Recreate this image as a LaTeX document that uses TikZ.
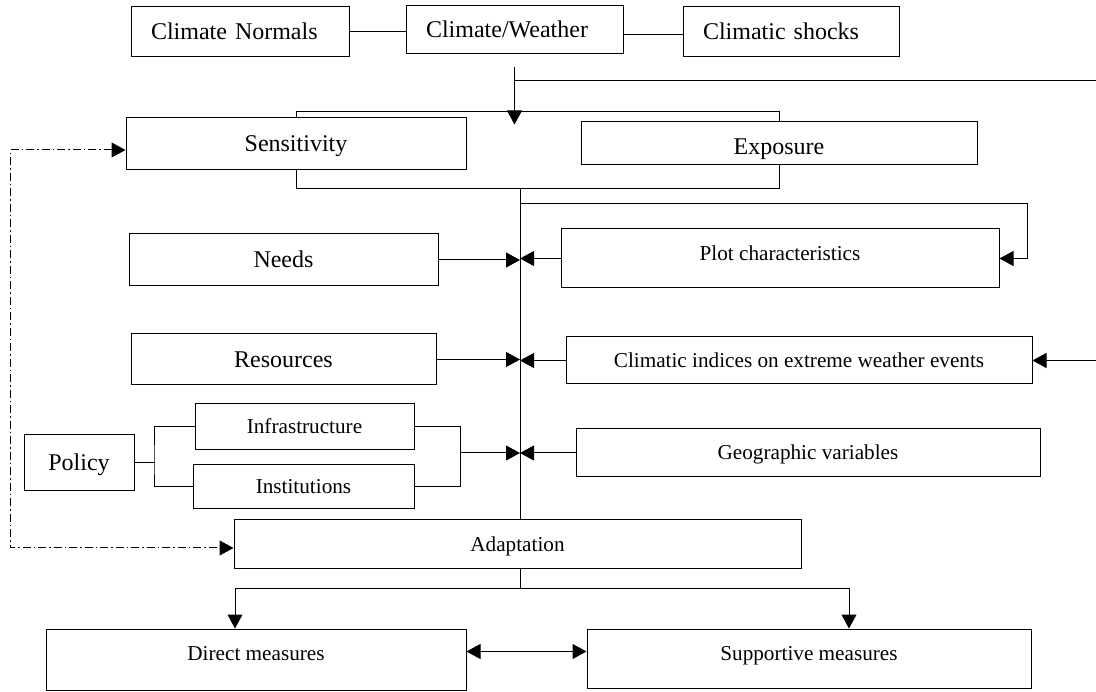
\documentclass[tikz,border=0pt]{standalone}
\usepackage{fontspec}
\setmainfont{Liberation Serif}
\usetikzlibrary{arrows.meta,positioning}
\begin{document}
\begin{tikzpicture}[x=1pt,y=-1pt,line width=1pt,
	bx/.style={draw,inner sep=0pt},
	big/.style={font=\fontsize{24}{28}\selectfont,text height=21.6pt,text depth=6pt},
	sml/.style={font=\fontsize{21.2}{25}\selectfont,text height=19.1pt,text depth=5.3pt},
	lft/.style={bx,big,inner xsep=20pt,align=left},
	tip/.style={-{Triangle[length=14pt,width=15pt]}},
	both/.style={{Triangle[length=14pt,width=15pt]}-{Triangle[length=14pt,width=15pt]}},
	chain/.style={dash pattern=on 8pt off 3pt on 1.5pt off 3pt}]
	\useasboundingbox (0,0) rectangle (1096,692);
	% climate row
	\node[lft,text width=178pt,minimum height=50pt] (0) at (240,32) {Climate Normals};
	\node[lft,text width=177pt,minimum height=48pt] (1) at (514.5,30) {Climate/Weather};
	\node[lft,text width=176pt,minimum height=50pt] (2) at (791,32) {Climatic shocks};
	\node[bx,big,minimum width=340pt,minimum height=52pt] (3) at (296,144) {Sensitivity};
	\node[bx,big,minimum width=396pt,minimum height=43pt,text height=27.8pt] (4) at (779,143.5) {Exposure};
	% factors
	\node[bx,big,minimum width=309pt,minimum height=52pt] (5) at (283.5,260) {Needs};
	\node[bx,sml,minimum width=438pt,minimum height=59pt,text depth=15pt] (6) at (780,258.5) {Plot characteristics};
	\node[bx,big,minimum width=305pt,minimum height=51pt] (7) at (283.5,359.5) {Resources};
	\node[bx,sml,minimum width=466pt,minimum height=47pt] (8) at (799,360.5) {Climatic indices on extreme weather events};
	\node[bx,sml,minimum width=219pt,minimum height=46pt] (9) at (304.5,427) {Infrastructure};
	\node[bx,sml,minimum width=221pt,minimum height=44pt] (10) at (303.5,487) {Institutions};
	\node[bx,big,minimum width=110pt,minimum height=56pt] (11) at (79,463) {Policy};
	\node[bx,sml,minimum width=464pt,minimum height=48pt] (12) at (808,453) {Geographic variables};
	% adaptation
	\node[bx,sml,minimum width=567pt,minimum height=49pt] (13) at (517.5,544.5) {Adaptation};
	\node[bx,sml,minimum width=420pt,minimum height=61pt,text depth=18pt] (14) at (256,659.5) {Direct measures};
	\node[bx,sml,minimum width=444pt,minimum height=59pt,text depth=16pt] (15) at (809,658.5) {Supportive measures};
	\coordinate (m) at (520,188);
	\draw (0.east) -- (0.east -| 1.west);
	\draw ([yshift=-3pt]2.west) -- ([yshift=-3pt]2.west -| 1.east);
	\draw (3.north) -- ++(0,-6) coordinate (t) -| (4.north);
	\draw (3.south) -- ++(0,18) -| (4.south);
	\draw[tip] ([yshift=-13pt]1.south) -- ([yshift=-13pt]1.south |- t);
	\draw ([yshift=-26pt]1.south) -- ++(582,0);
	\draw (m) -- (m |- 13.north);
	\draw[tip] (m |- 0,204) -- (1027,204) |- (6.east);
	\draw[tip] (5.east) -- (5.east -| m);
	\draw[tip] (6.west) -- (6.west -| m);
	\draw[tip] (7.east) -- (7.east -| m);
	\draw[tip] (8.west) -- (8.west -| m);
	\draw[tip] (8.east -| 1096,0) -- (8.east);
	\draw (11.east) -- ++(20,0);
	\draw (9.west) -| (154,463) |- (10.west);
	\draw (9.east) -| (460,487) -- (10.east);
	\draw[tip] (12.west -| 460,0) -- (12.west -| m);
	\draw[tip] (12.west) -- (12.west -| m);
	\draw[chain,both] ([yshift=-6pt]3.west) -- ++(-115,0) |- ([yshift=-3.5pt]13.west);
	\draw (13.south -| m) -- ++(0,19) coordinate (d);
	\draw[tip] (d) -| ([xshift=-21pt]14.north);
	\draw[tip] (d) -| ([xshift=40pt]15.north);
	\draw[both] ([yshift=8pt]14.east) -- ([yshift=8pt]14.east -| 15.west);
\end{tikzpicture}
\end{document}
